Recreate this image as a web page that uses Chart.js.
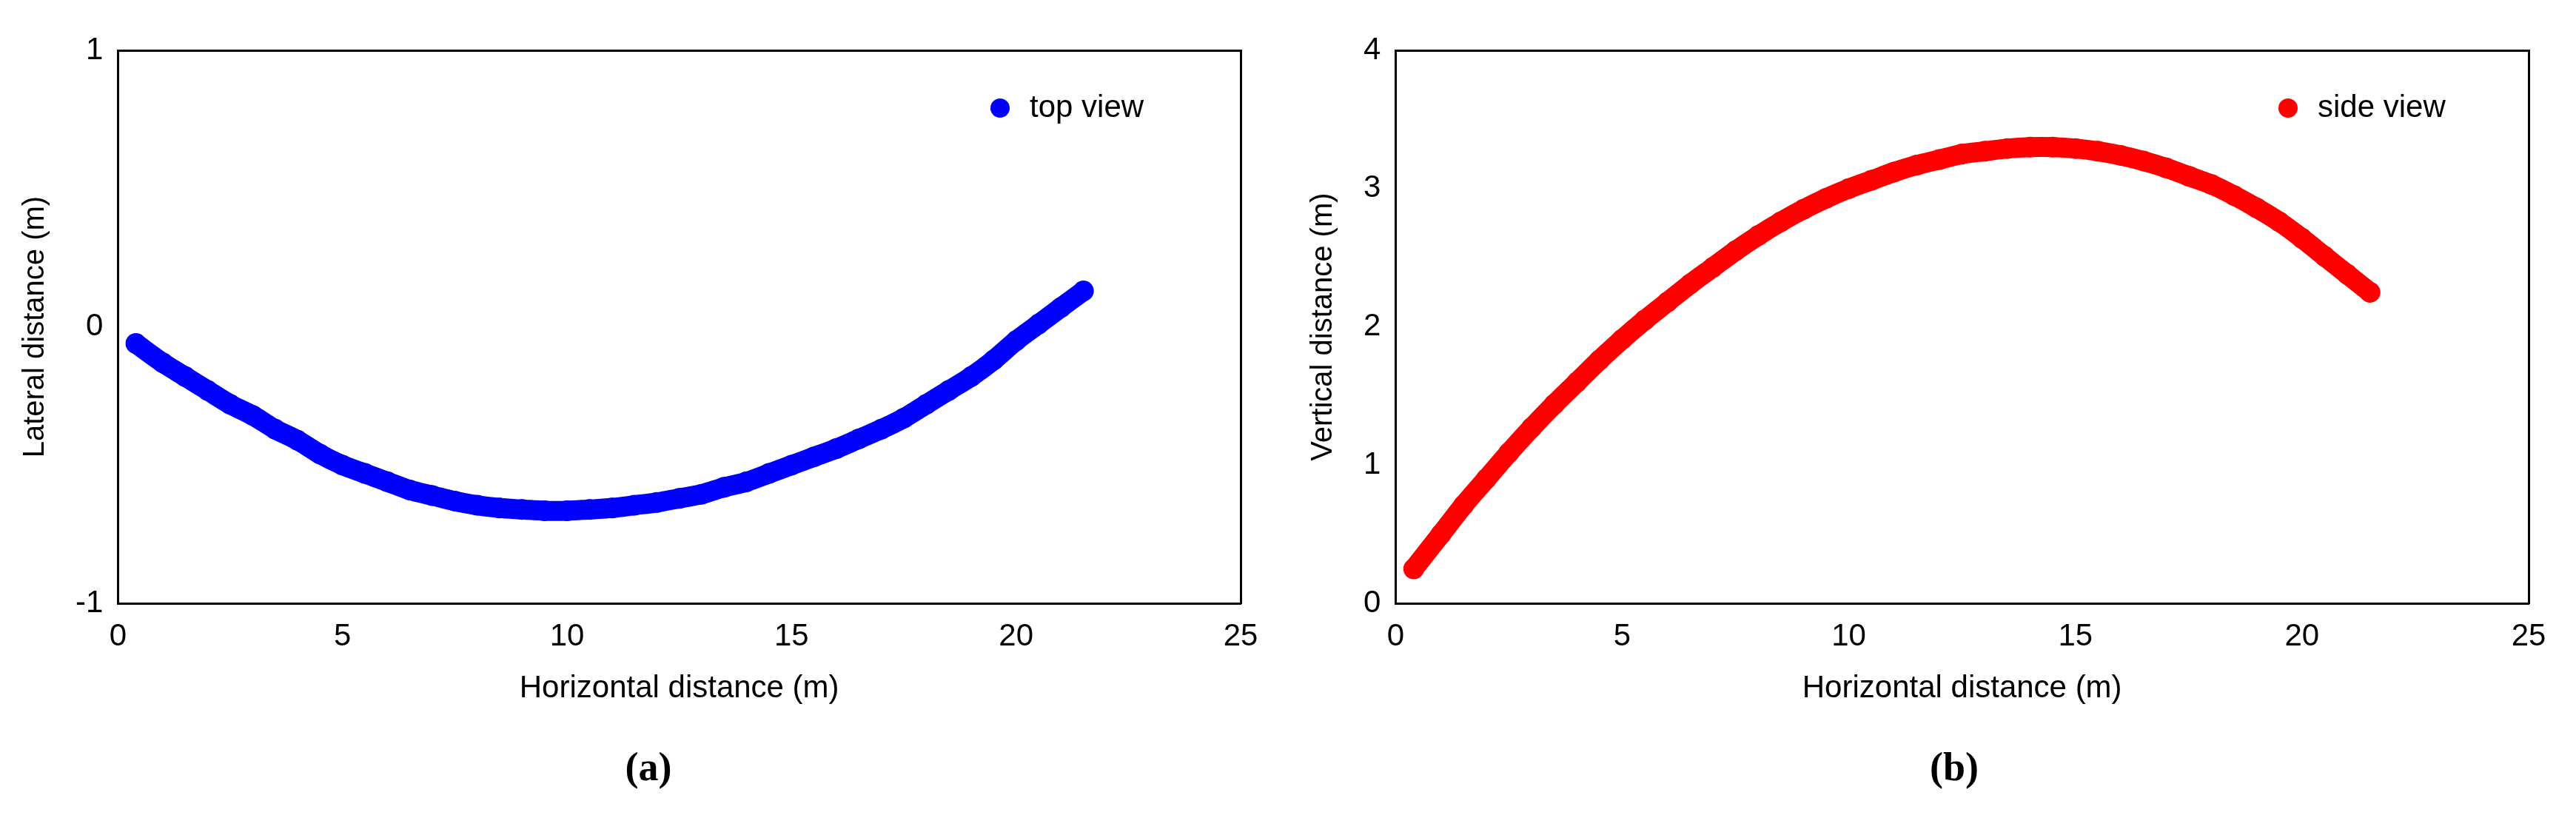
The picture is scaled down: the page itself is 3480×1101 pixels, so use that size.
<!DOCTYPE html>
<html>
<head>
<meta charset="utf-8">
<script src="https://cdn.jsdelivr.net/npm/chart.js@4.4.1/dist/chart.umd.min.js"></script>
<style>
  body { margin: 0; background: #fff; width: 3480px; height: 1101px; position: relative; overflow: hidden; }
  .panel { position: absolute; top: 0; width: 1740px; height: 1000px; }
  .cap { position: absolute; top: 1005px; font: bold 54px "Liberation Serif", serif; transform: translateX(-50%); }
</style>
</head>
<body>
<div class="panel" style="left:0"><canvas id="chartA"></canvas></div>
<div class="panel" style="left:1740px"><canvas id="chartB"></canvas></div>
<div class="cap" style="left:876px">(<span style="font-weight:bold">a</span>)</div>
<div class="cap" style="left:2640px">(b)</div>
<script>
// Values
const horizontal = [0.4, 1, 1.5, 2, 2.5, 3, 3.5, 4, 4.5, 5, 5.5, 6, 6.5, 7, 7.5, 8, 8.5, 9, 9.5, 10, 10.5, 11, 11.5, 12, 12.5, 13, 13.5, 14, 14.5, 15, 15.5, 16, 16.5, 17, 17.5, 18, 18.5, 19, 19.5, 20, 20.5, 21, 21.5];
const lateral = [-0.06, -0.13, -0.18, -0.23, -0.28, -0.32, -0.37, -0.41, -0.46, -0.50, -0.53, -0.56, -0.59, -0.61, -0.63, -0.645, -0.655, -0.66, -0.665, -0.665, -0.66, -0.655, -0.645, -0.635, -0.62, -0.605, -0.58, -0.56, -0.53, -0.50, -0.47, -0.44, -0.405, -0.37, -0.33, -0.28, -0.23, -0.18, -0.12, -0.05, 0.01, 0.07, 0.13];
const vertical = [0.25, 0.50, 0.71, 0.90, 1.09, 1.27, 1.44, 1.60, 1.76, 1.91, 2.05, 2.18, 2.31, 2.43, 2.55, 2.66, 2.76, 2.85, 2.93, 3.00, 3.06, 3.12, 3.17, 3.21, 3.25, 3.27, 3.29, 3.30, 3.30, 3.29, 3.27, 3.24, 3.20, 3.15, 3.09, 3.03, 2.95, 2.86, 2.76, 2.64, 2.51, 2.38, 2.25];
const xTicks = [0, 5, 10, 15, 20, 25];

const tickFont = { family: '"Liberation Sans Narrow", "Liberation Sans", Arial', size: 42 };

// Legend drawn inside the plot area, top right
const innerLegend = {
  id: 'innerLegend',
  afterDraw(chart) {
    const ds = chart.data.datasets[0];
    const ctx = chart.ctx;
    const a = chart.chartArea;
    const x = a.right - 325, y = a.top + 78;
    ctx.save();
    ctx.fillStyle = ds.pointBackgroundColor;
    ctx.beginPath();
    ctx.arc(x, y, 13, 0, Math.PI * 2);
    ctx.fill();
    ctx.fillStyle = '#000';
    ctx.font = '42px "Liberation Sans Narrow", "Liberation Sans", Arial';
    ctx.textBaseline = 'middle';
    ctx.fillText(ds.label, x + 40, y);
    ctx.restore();
  }
};

function makeChart(id, label, values, color, yMin, yMax, yTitle) {
  const ctx = document.getElementById(id).getContext('2d');
  return new Chart(ctx, {
    type: 'scatter',
    data: {
      datasets: [{
        label: label,
        data: horizontal.map((h, i) => ({ x: h, y: values[i] })),
        showLine: true,
        borderColor: color,
        borderWidth: 27,
        borderCapStyle: 'round',
        borderJoinStyle: 'round',
        tension: 0.3,
        pointRadius: 14,
        pointBackgroundColor: color,
        pointBorderWidth: 0
      }]
    },
    options: {
      responsive: true,
      maintainAspectRatio: false,
      animation: false,
      layout: { padding: { left: 20, right: 56, top: 60, bottom: 40 } },
      plugins: { legend: { display: false }, tooltip: { enabled: false } },
      scales: {
        x: {
          type: 'linear', min: 0, max: 25,
          afterBuildTicks: s => { s.ticks = xTicks.map(v => ({ value: v })); },
          grid: { display: false },
          border: { color: '#000', width: 3 },
          ticks: { color: '#000', font: tickFont, padding: 12 },
          title: { display: true, text: 'Horizontal distance (m)', color: '#000', font: tickFont, padding: { top: 8 } }
        },
        y: {
          type: 'linear', min: yMin, max: yMax,
          ticks: { stepSize: 1, color: '#000', font: tickFont, padding: 12 },
          grid: { display: false },
          border: { color: '#000', width: 3 },
          title: { display: true, text: yTitle, color: '#000', font: { family: '"Liberation Sans", Arial', size: 40 }, padding: { bottom: 18 } }
        },
        x2: { position: 'top', type: 'linear', min: 0, max: 25, ticks: { display: false }, grid: { display: false }, border: { color: '#000', width: 3 } },
        y2: { position: 'right', type: 'linear', min: yMin, max: yMax, ticks: { display: false }, grid: { display: false }, border: { color: '#000', width: 3 } }
      }
    },
    plugins: [innerLegend]
  });
}

makeChart('chartA', 'top view', lateral, '#0000ff', -1, 1, 'Lateral distance (m)');
makeChart('chartB', 'side view', vertical, '#ff0000', 0, 4, 'Vertical distance (m)');
</script>
</body>
</html>
